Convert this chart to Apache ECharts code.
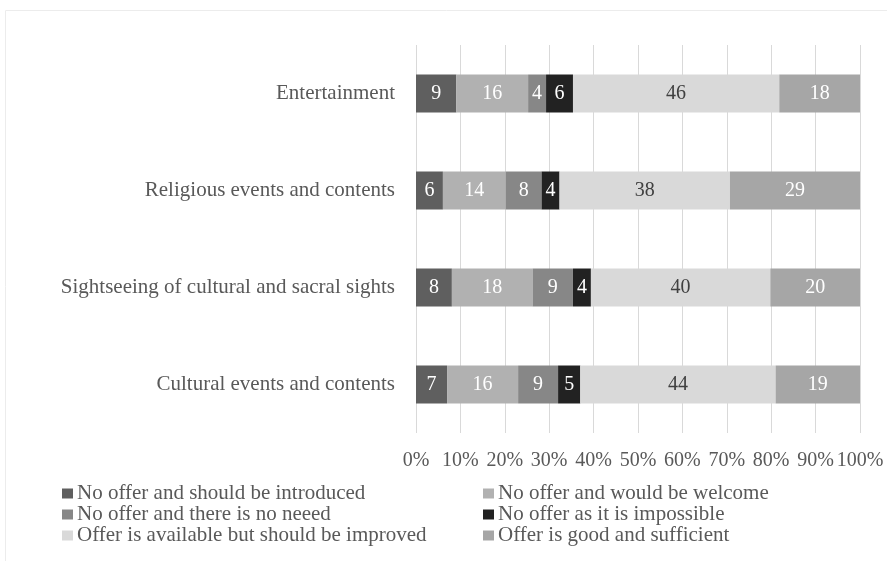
<!DOCTYPE html>
<html>
<head>
<meta charset="UTF-8">
<title>offer</title>
<script src="https://cdn.jsdelivr.net/npm/echarts@6/dist/echarts.min.js"></script>
<style>
  html, body { margin: 0; padding: 0; background: #fff; }
  #chart { width: 887px; height: 561px; }
</style>
</head>
<body>
<div id="chart"></div>
<script>
// categories from bottom to top
var categories = ['Cultural events and contents', 'Sightseeing of cultural and sacral sights', 'Religious events and contents', 'Entertainment'];
var seriesNames = [
  'No offer and should be introduced',
  'No offer and would be welcome',
  'No offer and there is no neeed',
  'No offer as it is impossible',
  'Offer is available but should be improved',
  'Offer is good and sufficient'
];
var shouldBeIntroduced = [7, 8, 6, 9];
var wouldBeWelcome = [16, 18, 14, 16];
var noNeed = [9, 9, 8, 4];
var impossible = [5, 4, 4, 6];
var shouldBeImproved = [44, 40, 38, 46];
var goodSufficient = [19, 20, 29, 18];
var xTicks = ['0%', '10%', '20%', '30%', '40%', '50%', '60%', '70%', '80%', '90%', '100%'];

var values = [shouldBeIntroduced, wouldBeWelcome, noNeed, impossible, shouldBeImproved, goodSufficient];
var colors = ['#5f5f5f', '#b1b1b1', '#878787', '#222222', '#d9d9d9', '#a6a6a6'];
var labelColors = ['#fff', '#fff', '#fff', '#fff', '#404040', '#fff'];
var font = 'Liberation Serif';

// row totals, so each bar fills 0-100%
var totals = categories.map(function(c, i) {
  var s = 0;
  for (var k = 0; k < values.length; k++) s += values[k][i];
  return s;
});

var series = seriesNames.map(function(name, k) {
  return {
    name: name,
    type: 'bar',
    stack: 'all',
    barWidth: 38,
    itemStyle: { color: colors[k] },
    label: {
      show: true,
      fontFamily: font,
      fontSize: 20,
      color: labelColors[k],
      formatter: function(p) { return values[k][p.dataIndex]; }
    },
    data: values[k].map(function(v, i) { return v / totals[i] * 100; })
  };
});

var legendBase = {
  orient: 'vertical',
  top: 483,
  padding: 0,
  itemWidth: 11,
  itemHeight: 10,
  itemGap: 0,
  icon: 'rect',
  textStyle: { fontFamily: font, fontSize: 21, lineHeight: 21, color: '#595959', padding: [0, 0, 0, -1] }
};

var chart = echarts.init(document.getElementById('chart'));
chart.setOption({
  animation: false,
  textStyle: { fontFamily: font },
  graphic: [{
    type: 'rect',
    shape: { x: 5.5, y: 10.5, width: 900, height: 600 },
    style: { fill: 'none', stroke: '#ececec', lineWidth: 1 },
    silent: true
  }],
  grid: { left: 416, right: 27, top: 45, bottom: 128 },
  xAxis: {
    type: 'value',
    min: 0,
    max: 100,
    interval: 10,
    axisLine: { show: false },
    axisTick: { show: false },
    splitLine: { lineStyle: { color: '#d9d9d9', width: 1 } },
    axisLabel: {
      margin: 18,
      fontFamily: font,
      fontSize: 20,
      color: '#595959',
      formatter: function(v) { return xTicks[Math.round(v / 10)]; }
    }
  },
  yAxis: {
    type: 'category',
    data: categories,
    axisLine: { show: false },
    axisTick: { show: false },
    axisLabel: { margin: 21, fontFamily: font, fontSize: 21, color: '#595959' }
  },
  legend: [
    Object.assign({}, legendBase, { left: 62, data: [seriesNames[0], seriesNames[2], seriesNames[4]] }),
    Object.assign({}, legendBase, { left: 483, data: [seriesNames[1], seriesNames[3], seriesNames[5]] })
  ],
  series: series
});
</script>
</body>
</html>
